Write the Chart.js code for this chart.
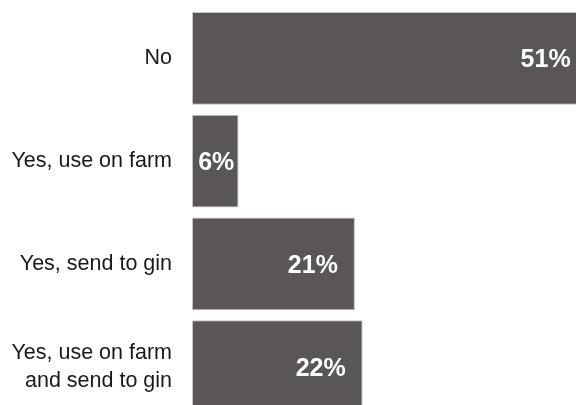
<!DOCTYPE html>
<html>
<head>
<meta charset="utf-8">
<script src="https://cdn.jsdelivr.net/npm/chart.js@4/dist/chart.umd.min.js"></script>
<style>
  html, body { margin: 0; padding: 0; background: #fff; overflow: hidden; }
  canvas { display: block; }
</style>
</head>
<body>
<canvas id="reuseChart" width="576" height="420"></canvas>
<script>
// Respuestas y porcentajes
const categorias = ['No', 'Yes, use on farm', 'Yes, send to gin', ['Yes, use on farm', 'and send to gin']];
const porcentajes = [51, 6, 21, 22];

const colorBarra = '#5a5556';
const colorBorde = '#c4c2c2';

// Etiquetas de porcentaje dentro de cada barra
const etiquetasValor = {
    id: 'etiquetasValor',
    afterDatasetsDraw(chart) {
        const ctx = chart.ctx;
        const meta = chart.getDatasetMeta(0);
        ctx.save();
        ctx.font = 'bold 25px "Liberation Sans", Arial, sans-serif';
        ctx.fillStyle = '#ffffff';
        ctx.textBaseline = 'middle';
        ctx.textAlign = 'left';
        meta.data.forEach(function(bar, i) {
            const texto = porcentajes[i] + '%';
            const ancho = ctx.measureText(texto).width;
            const largo = bar.x - bar.base;
            let x;
            if (largo < ancho + 34) {
                // barra angosta: centrar el texto
                x = bar.base + (largo - ancho) / 2 + 1;
            } else {
                x = bar.x - 17 - ancho;
            }
            ctx.fillText(texto, x, bar.y + 2);
        });
        ctx.restore();
    }
};

const ctx = document.getElementById('reuseChart').getContext('2d');
new Chart(ctx, {
    type: 'bar',
    data: {
        labels: categorias,
        datasets: [{
            data: porcentajes,
            backgroundColor: colorBarra,
            borderColor: colorBorde,
            borderWidth: 1,
            borderSkipped: false,
            barPercentage: 0.905,
            categoryPercentage: 1
        }]
    },
    options: {
        indexAxis: 'y',
        responsive: false,
        animation: false,
        layout: {
            padding: { top: 7, bottom: 2, left: 0, right: 0 }
        },
        plugins: {
            legend: { display: false },
            tooltip: { enabled: false }
        },
        scales: {
            x: {
                display: false,
                min: 0,
                max: 49.5
            },
            y: {
                grid: { display: false, drawTicks: false },
                border: { display: false },
                afterFit: function(scale) {
                    scale.width = 192;
                    // sin margen extra arriba/abajo por las etiquetas
                    scale.paddingTop = 0;
                    scale.paddingBottom = 0;
                },
                ticks: {
                    color: '#1a1a1a',
                    padding: 20,
                    font: {
                        family: '"Liberation Sans", Arial, sans-serif',
                        size: 21.5,
                        lineHeight: 1.3
                    }
                }
            }
        }
    },
    plugins: [etiquetasValor]
});
</script>
</body>
</html>
